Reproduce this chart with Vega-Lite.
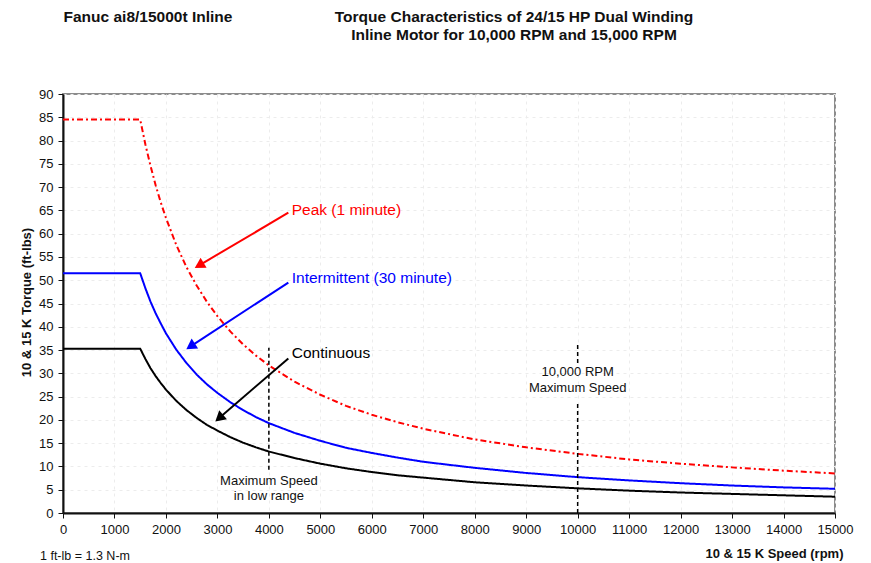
{
  "$schema": "https://vega.github.io/schema/vega-lite/v6.json",
  "width": 772,
  "height": 419,
  "autosize": {"type": "none"},
  "padding": {"left": 63, "top": 94, "right": 36, "bottom": 50},
  "background": "white",
  "config": {
    "font": "Liberation Sans",
    "view": {"stroke": "#8c8c8c", "strokeWidth": 2},
    "axis": {
      "labelFont": "Liberation Sans",
      "titleFont": "Liberation Sans",
      "labelColor": "#111111",
      "titleColor": "#111111",
      "labelFontSize": 13,
      "titleFontSize": 13,
      "titleFontWeight": "bold",
      "domainColor": "#111111",
      "domainWidth": 2,
      "tickColor": "#111111",
      "tickSize": 5,
      "tickWidth": 1,
      "gridColor": "#ececec",
      "gridDash": [3, 4],
      "gridWidth": 1
    }
  },
  "datasets": {
    "curves": [
      {"s": "Continuous", "rpm": 0, "t": 35.3},
      {"s": "Continuous", "rpm": 1500, "t": 35.3},
      {"s": "Continuous", "rpm": 1600, "t": 33.1},
      {"s": "Continuous", "rpm": 1700, "t": 31.1},
      {"s": "Continuous", "rpm": 1800, "t": 29.4},
      {"s": "Continuous", "rpm": 1900, "t": 27.9},
      {"s": "Continuous", "rpm": 2000, "t": 26.5},
      {"s": "Continuous", "rpm": 2200, "t": 24.1},
      {"s": "Continuous", "rpm": 2400, "t": 22.1},
      {"s": "Continuous", "rpm": 2600, "t": 20.4},
      {"s": "Continuous", "rpm": 2800, "t": 18.9},
      {"s": "Continuous", "rpm": 3000, "t": 17.7},
      {"s": "Continuous", "rpm": 3250, "t": 16.3},
      {"s": "Continuous", "rpm": 3500, "t": 15.1},
      {"s": "Continuous", "rpm": 3750, "t": 14.1},
      {"s": "Continuous", "rpm": 4000, "t": 13.2},
      {"s": "Continuous", "rpm": 4500, "t": 11.8},
      {"s": "Continuous", "rpm": 5000, "t": 10.6},
      {"s": "Continuous", "rpm": 5500, "t": 9.6},
      {"s": "Continuous", "rpm": 6000, "t": 8.8},
      {"s": "Continuous", "rpm": 6500, "t": 8.1},
      {"s": "Continuous", "rpm": 7000, "t": 7.6},
      {"s": "Continuous", "rpm": 8000, "t": 6.6},
      {"s": "Continuous", "rpm": 9000, "t": 5.9},
      {"s": "Continuous", "rpm": 10000, "t": 5.3},
      {"s": "Continuous", "rpm": 11000, "t": 4.8},
      {"s": "Continuous", "rpm": 12000, "t": 4.4},
      {"s": "Continuous", "rpm": 13000, "t": 4.1},
      {"s": "Continuous", "rpm": 14000, "t": 3.8},
      {"s": "Continuous", "rpm": 15000, "t": 3.5},
      {"s": "Intermittent", "rpm": 0, "t": 51.5},
      {"s": "Intermittent", "rpm": 1500, "t": 51.5},
      {"s": "Intermittent", "rpm": 1600, "t": 48.3},
      {"s": "Intermittent", "rpm": 1700, "t": 45.4},
      {"s": "Intermittent", "rpm": 1800, "t": 42.9},
      {"s": "Intermittent", "rpm": 1900, "t": 40.7},
      {"s": "Intermittent", "rpm": 2000, "t": 38.6},
      {"s": "Intermittent", "rpm": 2200, "t": 35.1},
      {"s": "Intermittent", "rpm": 2400, "t": 32.2},
      {"s": "Intermittent", "rpm": 2600, "t": 29.7},
      {"s": "Intermittent", "rpm": 2800, "t": 27.6},
      {"s": "Intermittent", "rpm": 3000, "t": 25.8},
      {"s": "Intermittent", "rpm": 3250, "t": 23.8},
      {"s": "Intermittent", "rpm": 3500, "t": 22.1},
      {"s": "Intermittent", "rpm": 3750, "t": 20.6},
      {"s": "Intermittent", "rpm": 4000, "t": 19.3},
      {"s": "Intermittent", "rpm": 4500, "t": 17.2},
      {"s": "Intermittent", "rpm": 5000, "t": 15.5},
      {"s": "Intermittent", "rpm": 5500, "t": 14.0},
      {"s": "Intermittent", "rpm": 6000, "t": 12.9},
      {"s": "Intermittent", "rpm": 6500, "t": 11.9},
      {"s": "Intermittent", "rpm": 7000, "t": 11.0},
      {"s": "Intermittent", "rpm": 8000, "t": 9.7},
      {"s": "Intermittent", "rpm": 9000, "t": 8.6},
      {"s": "Intermittent", "rpm": 10000, "t": 7.7},
      {"s": "Intermittent", "rpm": 11000, "t": 7.0},
      {"s": "Intermittent", "rpm": 12000, "t": 6.4},
      {"s": "Intermittent", "rpm": 13000, "t": 5.9},
      {"s": "Intermittent", "rpm": 14000, "t": 5.5},
      {"s": "Intermittent", "rpm": 15000, "t": 5.2},
      {"s": "Peak", "rpm": 0, "t": 84.5},
      {"s": "Peak", "rpm": 1500, "t": 84.5},
      {"s": "Peak", "rpm": 1600, "t": 79.2},
      {"s": "Peak", "rpm": 1700, "t": 74.6},
      {"s": "Peak", "rpm": 1800, "t": 70.4},
      {"s": "Peak", "rpm": 1900, "t": 66.7},
      {"s": "Peak", "rpm": 2000, "t": 63.4},
      {"s": "Peak", "rpm": 2200, "t": 57.6},
      {"s": "Peak", "rpm": 2400, "t": 52.8},
      {"s": "Peak", "rpm": 2600, "t": 48.8},
      {"s": "Peak", "rpm": 2800, "t": 45.3},
      {"s": "Peak", "rpm": 3000, "t": 42.3},
      {"s": "Peak", "rpm": 3250, "t": 39.0},
      {"s": "Peak", "rpm": 3500, "t": 36.2},
      {"s": "Peak", "rpm": 3750, "t": 33.8},
      {"s": "Peak", "rpm": 4000, "t": 31.7},
      {"s": "Peak", "rpm": 4500, "t": 28.2},
      {"s": "Peak", "rpm": 5000, "t": 25.4},
      {"s": "Peak", "rpm": 5500, "t": 23.0},
      {"s": "Peak", "rpm": 6000, "t": 21.1},
      {"s": "Peak", "rpm": 6500, "t": 19.5},
      {"s": "Peak", "rpm": 7000, "t": 18.1},
      {"s": "Peak", "rpm": 8000, "t": 15.8},
      {"s": "Peak", "rpm": 9000, "t": 14.1},
      {"s": "Peak", "rpm": 10000, "t": 12.7},
      {"s": "Peak", "rpm": 11000, "t": 11.5},
      {"s": "Peak", "rpm": 12000, "t": 10.6},
      {"s": "Peak", "rpm": 13000, "t": 9.8},
      {"s": "Peak", "rpm": 14000, "t": 9.1},
      {"s": "Peak", "rpm": 15000, "t": 8.5}
    ],
    "markers": [
      {"rpm": 4000, "t": 9.3, "t2": 35.5},
      {"rpm": 10000, "t": 32.2, "t2": 36.5},
      {"rpm": 10000, "t": 0, "t2": 23.6}
    ],
    "markerLabels": [
      {"rpm": 4000, "t": 6.9, "label": "Maximum Speed"},
      {"rpm": 4000, "t": 3.65, "label": "in low range"},
      {"rpm": 10000, "t": 30.3, "label": "10,000 RPM"},
      {"rpm": 10000, "t": 26.9, "label": "Maximum Speed"}
    ],
    "arrows": [
      {"s": "Peak", "rpm": 4378, "t": 64.5, "rpm2": 2646, "t2": 53.2},
      {"s": "Intermittent", "rpm": 4378, "t": 49.5, "rpm2": 2479, "t2": 35.8},
      {"s": "Continuous", "rpm": 4378, "t": 33.2, "rpm2": 3035, "t2": 20.4}
    ],
    "heads": [
      {"s": "Peak", "rpm": 2646, "t": 53.2, "ang": 239.5},
      {"s": "Intermittent", "rpm": 2479, "t": 35.8, "ang": 236.9},
      {"s": "Continuous", "rpm": 3035, "t": 20.4, "ang": 229.1}
    ],
    "calloutText": [
      {"s": "Peak", "label": "Peak (1 minute)", "rpm": 4444, "t": 65.1},
      {"s": "Intermittent", "label": "Intermittent (30 minute)", "rpm": 4444, "t": 50.4},
      {"s": "Continuous", "label": "Continuous", "rpm": 4444, "t": 34.3}
    ],
    "titles": [
      {"label": "Torque Characteristics of 24/15 HP Dual Winding", "rpm": 8763, "t": 106.6},
      {"label": "Inline Motor for 10,000 RPM and 15,000 RPM", "rpm": 8763, "t": 102.7}
    ],
    "head": [
      {"label": "Fanuc ai8/15000t Inline", "rpm": 10, "t": 106.6}
    ],
    "foot": [
      {"label": "1 ft-lb = 1.3 N-m", "rpm": -447, "t": -9.2}
    ]
  },
  "encoding": {
    "x": {
      "field": "rpm", "type": "quantitative",
      "scale": {"domain": [0, 15000], "nice": false, "zero": false},
      "axis": {
        "values": [0, 1000, 2000, 3000, 4000, 5000, 6000, 7000, 8000, 9000, 10000, 11000, 12000, 13000, 14000, 15000],
        "format": "d",
        "labelPadding": 5,
        "title": "10 & 15 K Speed (rpm)",
        "titleAnchor": "end",
        "titleAlign": "right",
        "titleX": 780,
        "titleY": 40,
        "titleBaseline": "middle",
        "labelFlush": false,
        "labelOverlap": false,
        "grid": true
      }
    },
    "y": {
      "field": "t", "type": "quantitative",
      "scale": {"domain": [0, 90], "nice": false},
      "axis": {
        "values": [0, 5, 10, 15, 20, 25, 30, 35, 40, 45, 50, 55, 60, 65, 70, 75, 80, 85, 90],
        "labelPadding": 5,
        "title": "10 & 15 K Torque (ft-lbs)",
        "titleAngle": -90,
        "titleX": -37,
        "titleY": 208,
        "titleBaseline": "middle",
        "titleAlign": "center",
        "labelFlush": false,
        "labelOverlap": false,
        "grid": true
      }
    }
  },
  "layer": [
    {
      "data": {"name": "curves"},
      "mark": {"type": "line", "strokeWidth": 2, "interpolate": "linear"},
      "encoding": {
        "detail": {"field": "s"},
        "color": {
          "field": "s", "type": "nominal",
          "scale": {"domain": ["Peak", "Intermittent", "Continuous"], "range": ["#ff0000", "#0000ff", "#000000"]},
          "legend": null
        },
        "strokeDash": {
          "field": "s", "type": "nominal",
          "scale": {"domain": ["Peak", "Intermittent", "Continuous"], "range": [[6, 3, 2, 3], [1, 0], [1, 0]]},
          "legend": null
        }
      }
    },
    {
      "data": {"name": "markers"},
      "mark": {"type": "rule", "color": "#000000", "strokeWidth": 1.5, "strokeDash": [4, 3]},
      "encoding": {
        "y2": {"field": "t2"}
      }
    },
    {
      "data": {"name": "markerLabels"},
      "mark": {"type": "text", "fontSize": 13, "color": "#111111", "align": "center", "baseline": "middle"},
      "encoding": {
        "text": {"field": "label"}
      }
    },
    {
      "data": {"name": "arrows"},
      "mark": {"type": "rule", "strokeWidth": 2},
      "encoding": {
        "x2": {"field": "rpm2"},
        "y2": {"field": "t2"},
        "color": {"field": "s", "type": "nominal", "legend": null}
      }
    },
    {
      "data": {"name": "heads"},
      "mark": {"type": "point", "shape": "triangle-up", "filled": true, "opacity": 1, "size": 140},
      "encoding": {
        "angle": {"field": "ang", "type": "quantitative", "scale": null},
        "color": {"field": "s", "type": "nominal", "legend": null}
      }
    },
    {
      "data": {"name": "calloutText"},
      "mark": {"type": "text", "fontSize": 15.5, "align": "left", "baseline": "middle"},
      "encoding": {
        "text": {"field": "label"},
        "color": {"field": "s", "type": "nominal", "legend": null}
      }
    },
    {
      "data": {"name": "titles"},
      "mark": {"type": "text", "fontSize": 15.5, "fontWeight": "bold", "align": "center", "baseline": "middle", "color": "#111111"},
      "encoding": {
        "text": {"field": "label"}
      }
    },
    {
      "data": {"name": "head"},
      "mark": {"type": "text", "fontSize": 15.5, "fontWeight": "bold", "align": "left", "baseline": "middle", "color": "#111111"},
      "encoding": {
        "text": {"field": "label"}
      }
    },
    {
      "data": {"name": "foot"},
      "mark": {"type": "text", "fontSize": 12.5, "align": "left", "baseline": "middle", "color": "#111111"},
      "encoding": {
        "text": {"field": "label"}
      }
    }
  ]
}
